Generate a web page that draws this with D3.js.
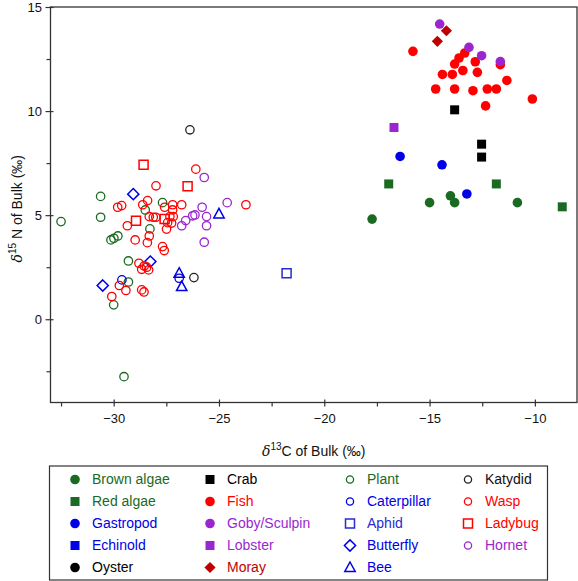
<!DOCTYPE html>
<html><head><meta charset="utf-8">
<script src="https://cdn.jsdelivr.net/npm/d3@7"></script>
<style>body{margin:0;background:#fff}svg{display:block;font-family:"Liberation Sans",Arial,sans-serif}</style>
</head><body><svg id="c" width="578" height="581"></svg>
<script>
// ---- data (δ13C, δ15N) ----
const brownAlgae = [[-17.73,4.81],[-15.0,5.6],[-14.01,5.93],[-13.81,5.6],[-10.83,5.6]];
const redAlgae = [[-16.94,6.5],[-11.83,6.5],[-8.7,5.4]];
const gastropod = [[-16.4,7.82],[-14.41,7.42],[-13.23,6.02]];
const echinold = [];
const oyster = [];
const crab = [[-13.81,10.06],[-12.53,8.41],[-12.53,7.79]];
const fish = [[-11.64,12.23],[-15.79,12.87],[-13.33,12.79],[-13.6,12.55],[-13.81,12.26],[-12.83,12.37],
  [-13.42,11.95],[-12.73,11.86],[-14.39,11.76],[-13.92,11.76],[-11.33,11.47],[-14.71,11.06],[-13.81,11.06],
  [-12.94,10.98],[-12.26,11.06],[-11.83,11.06],[-12.34,10.25],[-10.12,10.58]];
const goby = [[-14.52,14.18],[-13.13,13.06],[-12.53,12.66],[-11.64,12.38]];
const lobster = [[-16.69,9.21]];
const moray = [[-14.2,13.86],[-14.63,13.35]];
const plant = [[-32.5,4.69],[-30.62,5.9],[-30.62,4.9],[-30.13,3.81],[-29.99,3.89],[-29.8,4.0],[-29.3,2.8],
  [-28.28,4.34],[-27.68,5.6],[-28.5,5.25],[-29.3,1.79],[-30.0,0.69],[-29.51,-2.76]];
const caterpillar = [[-29.61,1.89],[-26.89,1.97]];
const aphid = [[-21.79,2.21]];
const butterfly = [[-30.52,1.62],[-28.26,2.77],[-29.07,6.01]];
const bee = [[-25.0,5.06],[-26.89,2.21],[-26.77,1.57]];
const katydid = [[-26.38,9.1],[-26.19,2.0]];
const wasp = [[-29.81,5.38],[-29.62,5.46],[-29.35,4.49],[-28.98,3.81],[-28.39,5.7],[-27.99,6.41],[-28.62,5.5],
  [-28.31,4.93],[-28.12,4.9],[-28.0,4.9],[-28.31,4.0],[-28.4,3.68],[-27.68,3.49],[-27.6,3.3],[-27.49,4.33],
  [-27.58,5.38],[-27.2,5.5],[-27.2,5.25],[-27.17,4.93],[-27.25,4.62],[-26.77,5.5],[-26.1,7.21],[-23.72,5.5],
  [-28.8,2.69],[-28.67,2.4],[-28.55,2.56],[-28.43,2.5],[-28.34,2.37],[-30.09,1.09],[-29.73,1.62],[-29.42,1.38],
  [-28.67,1.41],[-28.56,1.31],[-27.44,4.64],[-27.33,4.93]];
const ladybug = [[-28.58,7.42],[-28.94,4.73],[-27.58,4.81],[-26.49,6.39]];
const hornet = [[-25.7,6.81],[-24.61,5.6],[-25.8,5.38],[-25.59,4.93],[-26.14,5.01],[-26.25,4.97],[-26.58,4.74],
  [-26.77,4.49],[-25.59,4.49],[-25.7,3.7]];

const xTicks = [-30,-25,-20,-15,-10];
const yTicks = [0,5,10,15];

// ---- styles ----
const G="#1a6a22", B="#0000e6", K="#000", R="#ff0000", P="#9a26d0", DR="#c00000", BA="#2a2ad0";
const series = [
  {name:"Brown algae", data:brownAlgae, shape:"circle", fill:true, color:G},
  {name:"Red algae", data:redAlgae, shape:"square", fill:true, color:G},
  {name:"Gastropod", data:gastropod, shape:"circle", fill:true, color:B},
  {name:"Echinold", data:echinold, shape:"square", fill:true, color:B},
  {name:"Oyster", data:oyster, shape:"circle", fill:true, color:K},
  {name:"Crab", data:crab, shape:"square", fill:true, color:K},
  {name:"Fish", data:fish, shape:"circle", fill:true, color:R},
  {name:"Goby/Sculpin", data:goby, shape:"circle", fill:true, color:P},
  {name:"Lobster", data:lobster, shape:"square", fill:true, color:P},
  {name:"Moray", data:moray, shape:"diamond", fill:true, color:DR},
  {name:"Plant", data:plant, shape:"circle", fill:false, color:G},
  {name:"Caterpillar", data:caterpillar, shape:"circle", fill:false, color:B},
  {name:"Aphid", data:aphid, shape:"square", fill:false, color:BA},
  {name:"Butterfly", data:butterfly, shape:"diamond", fill:false, color:B},
  {name:"Bee", data:bee, shape:"triangle", fill:false, color:B},
  {name:"Katydid", data:katydid, shape:"circle", fill:false, color:"#222"},
  {name:"Wasp", data:wasp, shape:"circle", fill:false, color:R},
  {name:"Ladybug", data:ladybug, shape:"square", fill:false, color:R},
  {name:"Hornet", data:hornet, shape:"circle", fill:false, color:P}
];

const svg = d3.select("#c");
const L=50.5, Rr=577, T=7, Bt=402.5;
const x = d3.scaleLinear().domain([-33,-8]).range([L,Rr]);
const y = d3.scaleLinear().domain([-4,15]).range([Bt,T]);

function shapePath(shape, fill){
  if(shape==="circle") return null;
  if(shape==="square") { const s = fill?9:9; return `M${-s/2},${-s/2}h${s}v${s}h${-s}Z`; }
  if(shape==="diamond") { const s = 5.6; return `M0,${-s}L${s},0L0,${s}L${-s},0Z`; }
  if(shape==="triangle") { return `M0,-5.5L5.2,4L-5.2,4Z`; }
}
function drawMarker(g, s, px, py, legend){
  if(s.shape==="circle"){
    const r = s.fill ? 4.8 : (legend?3.6:4.2);
    g.append("circle").attr("cx",px).attr("cy",py).attr("r",r)
      .attr("fill", s.fill?s.color:"none").attr("stroke", s.color).attr("stroke-width", s.fill?0:1.3);
  } else {
    g.append("path").attr("d", shapePath(s.shape, s.fill)).attr("transform",`translate(${px},${py})`)
      .attr("fill", s.fill?s.color:"none").attr("stroke", s.fill?"none":s.color).attr("stroke-width",1.5);
  }
}

// axes
const ax = "#333";
const xAxis = d3.axisBottom(x).tickValues(xTicks).tickSize(4).tickSizeOuter(0);
const gx = svg.append("g").attr("transform",`translate(0,${Bt})`).call(xAxis);
gx.select(".domain").remove();
gx.selectAll(".tick line").attr("stroke",ax).attr("stroke-width",1.2).attr("y1",-3);
gx.selectAll(".tick text").attr("font-size",13).attr("fill","#111").attr("dy","0.71em").attr("y",11);
const xMinor = d3.axisBottom(x).tickValues([-32.5,-27.5,-22.5,-17.5,-12.5]).tickSize(4).tickFormat("");
const gxm = svg.append("g").attr("transform",`translate(0,${Bt})`).call(xMinor);
gxm.select(".domain").remove(); gxm.selectAll(".tick line").attr("stroke",ax).attr("stroke-width",1.2);

const yAxis = d3.axisLeft(y).tickValues(yTicks).tickSize(5).tickSizeOuter(0);
const gy = svg.append("g").attr("transform",`translate(${L},0)`).call(yAxis);
gy.select(".domain").remove();
gy.selectAll(".tick line").attr("stroke",ax).attr("stroke-width",1.2).attr("x1",3);
gy.selectAll(".tick text").attr("font-size",13).attr("fill","#111").attr("x",-8.5);
const yMinor = d3.axisLeft(y).tickValues([-2.5,2.5,7.5,12.5]).tickSize(4).tickFormat("");
const gym = svg.append("g").attr("transform",`translate(${L},0)`).call(yMinor);
gym.select(".domain").remove(); gym.selectAll(".tick line").attr("stroke",ax).attr("stroke-width",1.2);

svg.append("rect").attr("x",L).attr("y",T).attr("width",Rr-L).attr("height",Bt-T)
  .attr("fill","none").attr("stroke",ax).attr("stroke-width",1.3);

// axis titles
const xt = svg.append("text").attr("x",(L+Rr)/2).attr("y",456).attr("text-anchor","middle").attr("font-size",14).attr("fill","#111");
xt.append("tspan").attr("font-style","italic").attr("font-family","'DejaVu Serif',serif").text("δ");
xt.append("tspan").attr("font-size",10).attr("dy",-6).text("13");
xt.append("tspan").attr("dy",6).text("C of Bulk (‰)");
const yt = svg.append("text").attr("transform",`translate(22,${(T+Bt)/2+4}) rotate(-90)`).attr("text-anchor","middle").attr("font-size",14).attr("fill","#111");
yt.append("tspan").attr("font-style","italic").attr("font-family","'DejaVu Serif',serif").text("δ");
yt.append("tspan").attr("font-size",10).attr("dy",-6).text("15");
yt.append("tspan").attr("dy",6).text(" N of Bulk (‰)");

// points
const pg = svg.append("g");
series.forEach(s => s.data.forEach(d => drawMarker(pg, s, x(d[0]), y(d[1]), false)));

// legend
svg.append("rect").attr("x",49.5).attr("y",466).attr("width",498).attr("height",114)
  .attr("fill","none").attr("stroke",ax).attr("stroke-width",1.2);
const colX = [75,210,350,468];
const lg = svg.append("g");
series.forEach((s,i) => {
  const col = i<5?0:(i<10?1:(i<15?2:3));
  const row = i<15 ? i%5 : i-15;
  const cy = 479.5 + row*22;
  drawMarker(lg, s, colX[col], cy, true);
  lg.append("text").attr("x",colX[col]+17).attr("y",cy).attr("dy","0.35em").attr("font-size",14)
    .attr("fill",s.color==="#222"?"#111":s.color).text(s.name);
});
</script></body></html>
